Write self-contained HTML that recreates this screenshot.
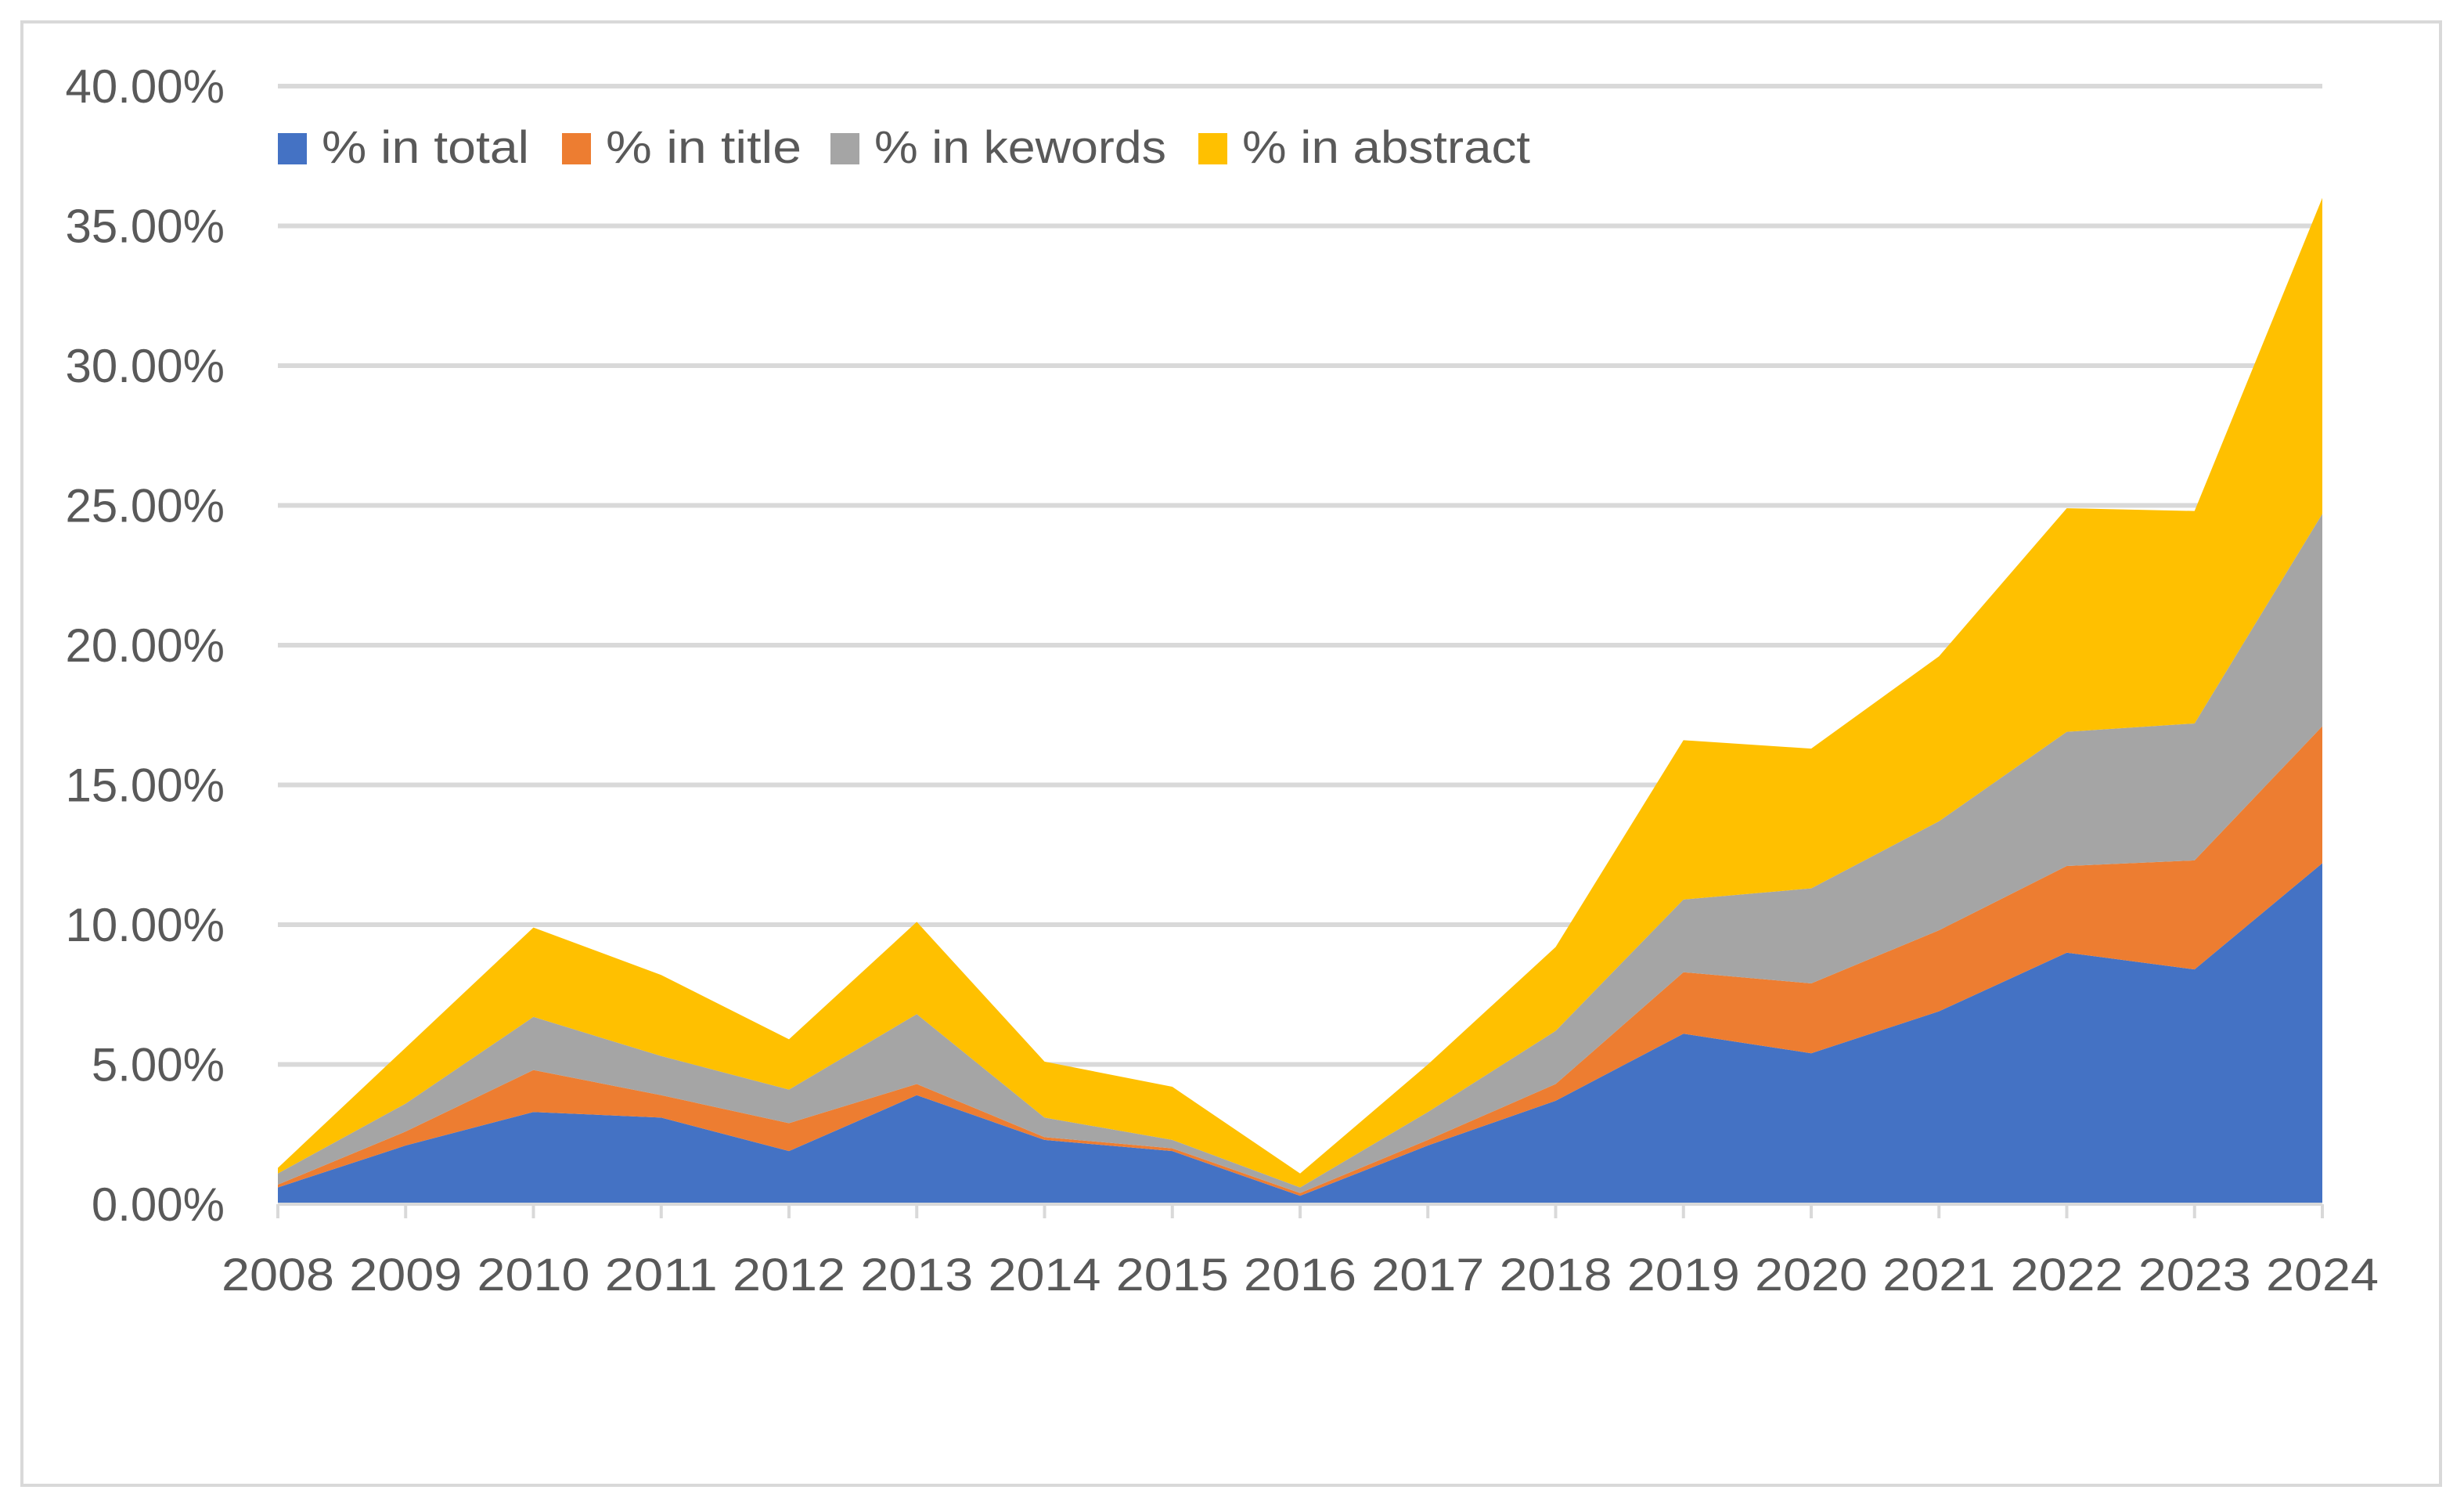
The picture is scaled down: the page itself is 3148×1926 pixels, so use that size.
<!DOCTYPE html>
<html><head><meta charset="utf-8"><style>html,body{margin:0;padding:0;background:#fff}svg{display:block}</style></head>
<body>
<svg id="chart" width="3148" height="1926" xmlns="http://www.w3.org/2000/svg" font-family="Liberation Sans, sans-serif">
<rect x="28" y="28" width="3090" height="1869" fill="#fff" stroke="#d9d9d9" stroke-width="4"/>
<g id="grid"></g><g id="areas"></g><g id="axes"></g><g id="legend"></g>
</svg>
<script>
const years=["2008","2009","2010","2011","2012","2013","2014","2015","2016","2017","2018","2019","2020","2021","2022","2023","2024"];
const total=[0.6,2.1,3.3,3.1,1.9,3.9,2.3,1.9,0.3,2.1,3.7,6.1,5.4,6.9,9.0,8.4,12.2];
const title=[0.1,0.5,1.5,0.8,1.0,0.4,0.1,0.1,0.1,0.2,0.6,2.2,2.5,2.9,3.1,3.9,4.9];
const keywords=[0.4,1.0,1.9,1.4,1.2,2.5,0.7,0.3,0.2,1.0,1.9,2.6,3.4,3.9,4.8,4.9,7.6];
const abstract=[0.2,2.0,3.2,2.9,1.8,3.3,2.0,1.9,0.5,1.7,3.0,5.7,5.0,5.9,8.0,7.6,11.3];
const yTicks=[0,5,10,15,20,25,30,35,40];
const yTickLabels=["0.00%","5.00%","10.00%","15.00%","20.00%","25.00%","30.00%","35.00%","40.00%"];
const seriesNames=["% in total","% in title","% in kewords","% in abstract"];
const NS="http://www.w3.org/2000/svg";
const X0=355,X1=2967,Y0=1538,Y1=110;
const x=i=>X0+(X1-X0)*i/(years.length-1);
const y=v=>Y0-(Y0-Y1)*v/40;
function mk(t,a,p){const e=document.createElementNS(NS,t);for(const k in a)e.setAttribute(k,a[k]);p.appendChild(e);return e;}
const grid=document.getElementById('grid'),areas=document.getElementById('areas'),axes=document.getElementById('axes'),legend=document.getElementById('legend');
yTicks.forEach((t,i)=>{
  if(i>0){const l=mk('line',{x1:X0,x2:X1,y1:y(t),y2:y(t),stroke:'#d9d9d9','stroke-width':6},grid);
  
  }
  const tx=mk('text',{x:287,y:y(t)+21,'text-anchor':'end','font-size':60,fill:'#595959'},axes);
  tx.textContent=yTickLabels[i];
  
  
});
const series=[total,title,keywords,abstract];
const colors=["#4472c4","#ed7d31","#a5a5a5","#ffc000"];
let base=years.map(()=>0);
series.forEach((s,si)=>{
  const top=base.map((b,i)=>b+s[i]);
  let d='M'+years.map((_,i)=>x(i)+','+y(top[i])).join(' L');
  for(let i=years.length-1;i>=0;i--)d+=' L'+x(i)+','+y(base[i]);
  d+='Z';
  const p=mk('path',{d:d,fill:colors[si]},areas);
  
  
  base=top;
});
const ax=mk('line',{x1:X0,x2:X1,y1:Y0,y2:Y0,stroke:'#d9d9d9','stroke-width':4},axes);


years.forEach((yr,i)=>{
  const tk=mk('line',{x1:x(i),x2:x(i),y1:Y0,y2:Y0+18,stroke:'#d9d9d9','stroke-width':4},axes);
  
  
  const t=mk('text',{x:x(i),y:Y0+110,'text-anchor':'middle','font-size':58,fill:'#595959',textLength:144,lengthAdjust:'spacingAndGlyphs'},axes);
  t.textContent=yr;
  
  
});
const legX=[355,718,1061,1531],legW=[265,250,373,368];
seriesNames.forEach((n,i)=>{
  const g=mk('g',{},legend);
  
  
  mk('rect',{x:legX[i],y:170,width:37,height:40,fill:colors[i]},g);
  const t=mk('text',{x:legX[i]+56,y:208,'font-size':58,fill:'#595959',textLength:legW[i],lengthAdjust:'spacingAndGlyphs'},g);
  t.textContent=n;
});
</script>
</body></html>
